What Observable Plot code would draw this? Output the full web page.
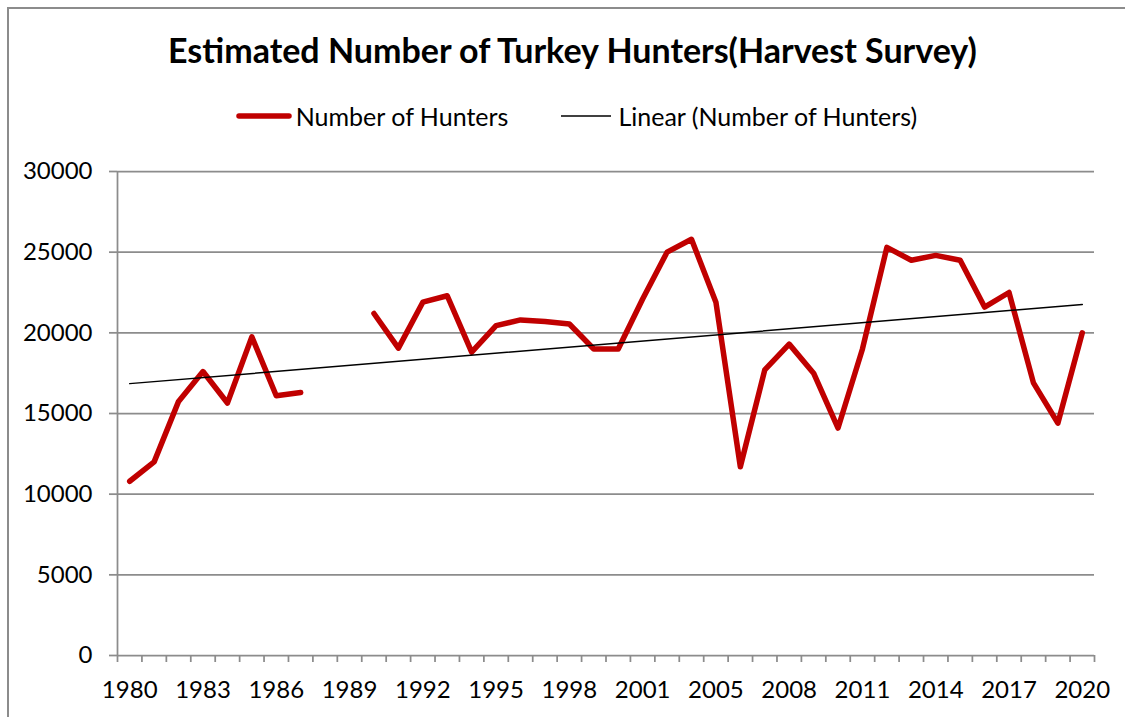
<!DOCTYPE html>
<html>
<head>
<meta charset="utf-8">
<script src="https://cdn.jsdelivr.net/npm/d3@7"></script>
<script src="https://cdn.jsdelivr.net/npm/@observablehq/plot@0.6"></script>
<style>
  html, body { margin: 0; padding: 0; background: #fff; overflow: hidden; }
  #wrap { position: relative; width: 1125px; height: 717px; font-family: Lato, "Open Sans", sans-serif; color: #000; }
  #frame { position: absolute; left: 7px; top: 7px; width: 1300px; height: 900px; border-left: 2px solid #8c8c8c; border-top: 2px solid #8c8c8c; }
  #title { position: absolute; left: 0; width: 1145px; top: 29px; text-align: center; font-weight: 700; font-size: 34px; white-space: nowrap; }
  #legend { position: absolute; left: 0; width: 1153px; top: 101px; display: flex; justify-content: center; align-items: center; font-size: 25px; white-space: nowrap; }
  .item { display: flex; align-items: center; }
  .item svg { display: block; margin-right: 4px; }
  #chart { position: absolute; left: 0; top: 150px; }
</style>
</head>
<body>
<div id="wrap">
  <div id="frame"></div>
  <div id="title"></div>
  <div id="legend"></div>
  <div id="chart"></div>
</div>
<script>
const titleText = "Estimated Number of Turkey Hunters(Harvest Survey)";
const seriesName = "Number of Hunters";
const trendName = "Linear (Number of Hunters)";

const years = ["1980","1981","1982","1983","1984","1985","1986","1987","1988","1989",
  "1990","1991","1992","1993","1994","1995","1996","1997","1998","1999","2000","2001",
  "2003","2004","2005","2006","2007","2008","2009","2010","2011","2012","2013","2014",
  "2015","2016","2017","2018","2019","2020"];
const hunters = [10800,12000,15750,17600,15650,19750,16100,16300,null,null,
  21200,19050,21900,22300,18800,20450,20800,20700,20550,19000,19000,22100,
  25000,25800,21900,11700,17700,19300,17500,14100,19000,25300,24500,24800,
  24500,21600,22500,16900,14400,20000];
const xTickLabels = ["1980","1983","1986","1989","1992","1995","1998","2001","2005","2008","2011","2014","2017","2020"];
const yTicks = [0,5000,10000,15000,20000,25000,30000];

const red = "#C00000";
const grid = "#8c8c8c";

document.getElementById("title").textContent = titleText;

const legend = document.getElementById("legend");
function legendItem(label, color, w, gapAfter) {
  const item = document.createElement("div");
  item.className = "item";
  item.style.marginRight = gapAfter + "px";
  const ns = "http://www.w3.org/2000/svg";
  const s = document.createElementNS(ns, "svg");
  s.setAttribute("width", 56); s.setAttribute("height", 12);
  const l = document.createElementNS(ns, "line");
  l.setAttribute("x1", 3); l.setAttribute("x2", 53); l.setAttribute("y1", 6); l.setAttribute("y2", 6);
  l.setAttribute("stroke", color); l.setAttribute("stroke-width", w); l.setAttribute("stroke-linecap", w > 3 ? "round" : "butt");
  s.appendChild(l);
  const t = document.createElement("span"); t.textContent = label;
  item.appendChild(s); item.appendChild(t);
  legend.appendChild(item);
}
legendItem(seriesName, red, 5.5, 50);
legendItem(trendName, "#000", 1.5, 0);

const data = years.map((year, i) => ({i, year, value: hunters[i]}));
const defined = data.filter(d => d.value != null);
const boundaries = d3.range(years.length + 1).map(k => k - 0.5);
const labelIdx = xTickLabels.map(l => years.indexOf(l));

const chart = Plot.plot({
  width: 1125, height: 567,
  marginTop: 21, marginBottom: 62, marginLeft: 117, marginRight: 31,
  style: {fontFamily: "Lato, 'Open Sans', sans-serif", fontSize: "24px", color: "#000", background: "transparent", overflow: "visible"},
  x: {domain: [-0.5, years.length - 0.5], axis: null},
  y: {domain: [0, 30000], axis: null},
  marks: [
    Plot.gridY(yTicks, {stroke: grid, strokeOpacity: 1, strokeWidth: 1.75}),
    Plot.axisY(yTicks, {tickSize: 8, tickPadding: 17, stroke: grid, strokeWidth: 1.75, tickFormat: d => String(d), label: null, fill: "#000"}),
    Plot.ruleX([-0.5], {stroke: grid, strokeWidth: 1.75}),
    Plot.axisX(boundaries, {tickSize: 7, stroke: grid, strokeWidth: 1.75, tickFormat: () => "", label: null}),
    Plot.axisX(labelIdx, {tickSize: 0, tickPadding: 25, tickFormat: i => years[i], label: null, fill: "#000"}),
    Plot.lineY(data, {x: "i", y: "value", stroke: red, strokeWidth: 5.5, strokeLinejoin: "round", strokeLinecap: "round"}),
    Plot.linearRegressionY(defined, {x: "i", y: "value", stroke: "#000", strokeWidth: 1.5, ci: 0})
  ]
});
document.getElementById("chart").appendChild(chart);
</script>
</body>
</html>
